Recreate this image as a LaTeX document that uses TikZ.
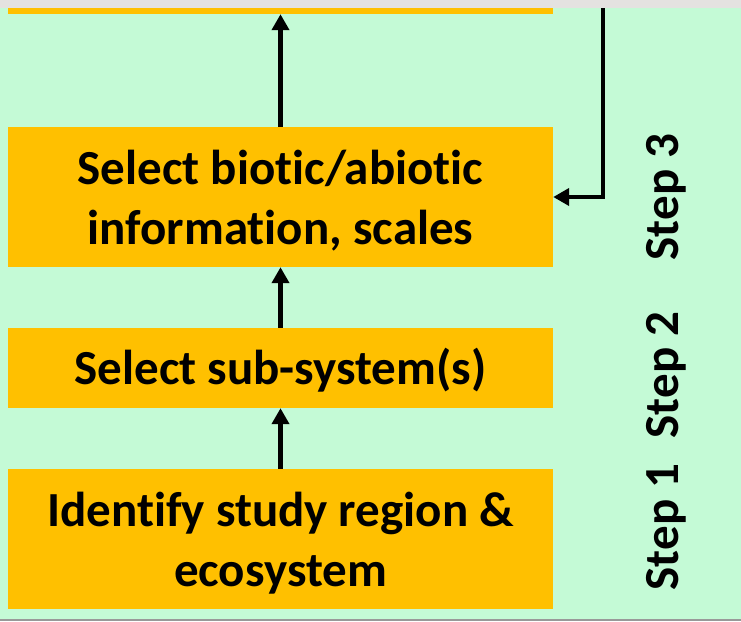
\documentclass[tikz,border=0pt]{standalone}
\usepackage{fontspec}
\setmainfont{Carlito}[Ligatures={NoCommon}]
\usetikzlibrary{arrows.meta}
\definecolor{leaf}{HTML}{C4FAD6}
\definecolor{amber}{HTML}{FFC000}
\definecolor{strip}{HTML}{E4E2E0}
\begin{document}
\begin{tikzpicture}[x=1pt, y=-1pt,
            stagebox/.style={fill=amber, minimum width=545pt, inner sep=0pt},
            stagetext/.style={align=center, inner sep=0pt,
                font=\bfseries\fontsize{49}{60}\selectfont},
            steplabel/.style={rotate=90, font=\bfseries\fontsize{49}{60}\selectfont},
            flow/.style={line width=4.5pt, -{Triangle[length=16pt,width=17pt]}}]
            % Frame
            \useasboundingbox (0,0) rectangle (741,621);
            \clip (0,0) rectangle (741,621);
            \fill[leaf] (0,0) rectangle (741,621);
            % Stages
            \node[stagebox, minimum height=74pt] (goal) at (280.5,-23) {};
            \node[stagebox, minimum height=140pt] (info) at (280.5,197) {};
            \node[stagebox, minimum height=80pt] (sub) at (280.5,368) {};
            \node[stagebox, minimum height=140pt] (region) at (280.5,539) {};
            % Stage texts
            \node[stagetext] (info-txt) at ([yshift=-4pt]info.center)
                {Select biotic/abiotic\\information, scales};
            \node[stagetext] (sub-txt) at ([yshift=-2pt]sub.center)
                {Select sub-system(s)};
            \node[stagetext] (region-txt) at ([yshift=-4pt]region.center)
                {Identify study region \&\\ecosystem};
            % Arrows between stages
            \draw[flow] (region.north) -- (sub.south);
            \draw[flow] (sub.north) -- (info.south);
            \draw[flow] (info.north) -- (goal.south);
            % Feedback from above
            \coordinate (back) at (603,0);
            \draw[flow] (back) |- (info.east);
            % Step labels
            \node[steplabel] (s3) at (666,197) {Step 3};
            \node[steplabel] (s2) at (666,375) {Step 2};
            \node[steplabel] (s1) at (666,527) {Step 1};
            % Page edges
            \fill[strip] (0,0) rectangle (741,8);
            \draw[gray!80, line width=1.5pt] (0,620) -- (741,620);
\end{tikzpicture}
\end{document}
